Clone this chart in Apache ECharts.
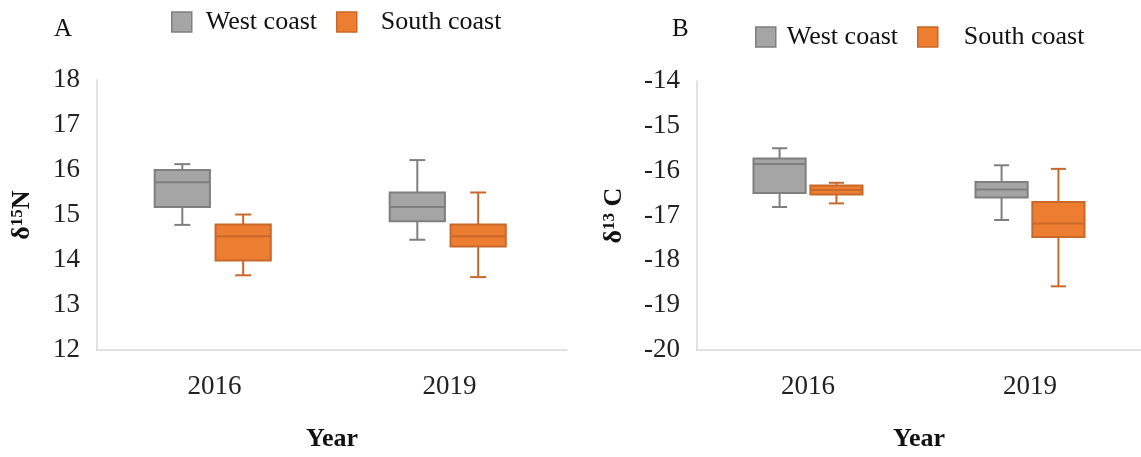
<!DOCTYPE html>
<html><head><meta charset="utf-8">
<script src="https://cdn.jsdelivr.net/npm/echarts@6/dist/echarts.min.js"></script>
<style>html,body{margin:0;padding:0;background:#fff}#c{width:1141px;height:457px}</style>
</head><body><div id="c"></div>
<script>
const years = ['2016', '2019'];
const seriesNames = ['West coast', 'South coast'];
// each entry: [min, Q1, median, Q3, max]
const nWest  = [[14.78, 15.18, 15.73, 16.00, 16.13], [14.45, 14.86, 15.18, 15.50, 16.22]];
const nSouth = [[13.66, 13.99, 14.53, 14.79, 15.01], [13.62, 14.30, 14.53, 14.79, 15.50]];
const cWest  = [[-16.81, -16.50, -15.85, -15.73, -15.50], [-17.10, -16.60, -16.42, -16.25, -15.88]];
const cSouth = [[-16.73, -16.53, -16.43, -16.33, -16.27], [-18.58, -17.48, -17.18, -16.70, -15.96]];
const nAxisRange = [12, 18];
const cAxisRange = [-20, -14];

const FONT = 'Liberation Serif';
const GRAY = '#a5a5a5', GRAY_S = '#7f7f7f';
const ORANGE = '#ed7d31', ORANGE_S = '#c8682a';

function makeRender(fill, stroke, offFrac) {
  return function (params, api) {
    const i = api.value(0);
    const band = api.size([1, 0])[0];
    const p = k => api.coord([i, api.value(k)]);
    const cx = p(3)[0] + offFrac * band;
    const yMin = p(1)[1], yQ1 = p(2)[1], yMed = p(3)[1], yQ3 = p(4)[1], yMax = p(5)[1];
    const bw = band * 0.235, cw = band * 0.068;
    const ls = { stroke: stroke, lineWidth: 2 };
    return { type: 'group', children: [
      { type: 'line', shape: { x1: cx, y1: yMax, x2: cx, y2: yQ3 }, style: ls },
      { type: 'line', shape: { x1: cx, y1: yQ1, x2: cx, y2: yMin }, style: ls },
      { type: 'line', shape: { x1: cx - cw / 2, y1: yMax, x2: cx + cw / 2, y2: yMax }, style: ls },
      { type: 'line', shape: { x1: cx - cw / 2, y1: yMin, x2: cx + cw / 2, y2: yMin }, style: ls },
      { type: 'rect', shape: { x: cx - bw / 2, y: yQ3, width: bw, height: yQ1 - yQ3 }, style: { fill: fill, stroke: stroke, lineWidth: 2 } },
      { type: 'line', shape: { x1: cx - bw / 2, y1: yMed, x2: cx + bw / 2, y2: yMed }, style: ls }
    ] };
  };
}

const toData = arr => arr.map((d, i) => [i].concat(d));

function xAxisCfg(gi) {
  return {
    type: 'category', gridIndex: gi, data: years,
    axisLine: { onZero: false, lineStyle: { color: '#d9d9d9', width: 1.5 } },
    axisTick: { show: false },
    axisLabel: { fontFamily: FONT, fontSize: 27, color: '#222', margin: 23 },
    name: 'Year', nameLocation: 'middle', nameGap: 76,
    nameTextStyle: { fontFamily: FONT, fontSize: 26, fontWeight: 'bold', color: '#111' }
  };
}
function yAxisCfg(gi, range, nameStr, gap) {
  return {
    type: 'value', gridIndex: gi, min: range[0], max: range[1], interval: 1,
    splitLine: { show: false },
    axisLine: { show: true, lineStyle: { color: '#d9d9d9', width: 1.5 } },
    axisTick: { show: false },
    axisLabel: { fontFamily: FONT, fontSize: 27, color: '#222', margin: 17 },
    name: nameStr, nameLocation: 'middle', nameGap: gap,
    nameTextStyle: {
      fontFamily: FONT, fontSize: 26, fontWeight: 'bold', color: '#111',
      rich: { sup: { fontFamily: FONT, fontSize: 17, fontWeight: 'bold', color: '#111', verticalAlign: 'top' } }
    }
  };
}
function legendCfg(left, top, p1, p2) {
  return {
    left: left, top: top, icon: 'rect', itemWidth: 20, itemHeight: 20, itemGap: 19,
    textStyle: { fontFamily: FONT, fontSize: 26, color: '#111', padding: [0, 0, 0, p1] },
    data: [
      { name: seriesNames[0], itemStyle: { color: GRAY, borderColor: GRAY_S, borderWidth: 1.5 } },
      { name: seriesNames[1], itemStyle: { color: ORANGE, borderColor: ORANGE_S, borderWidth: 1.5 },
        textStyle: { padding: [0, 0, 0, p2] } }
    ]
  };
}

const chart = echarts.init(document.getElementById('c'), null, { renderer: 'canvas' });
chart.setOption({
  animation: false,
  title: [
    { text: 'A', left: 49, top: 12, textStyle: { fontFamily: FONT, fontSize: 25, fontWeight: 'normal', color: '#111' } },
    { text: 'B', left: 667, top: 12, textStyle: { fontFamily: FONT, fontSize: 25, fontWeight: 'normal', color: '#111' } }
  ],
  legend: [legendCfg(166, 4, 9, 19), legendCfg(750, 19, 6, 21)],
  grid: [
    { left: 97, width: 470, top: 80, height: 278 },
    { left: 697, width: 444, top: 81, height: 276 }
  ],
  xAxis: [xAxisCfg(0), xAxisCfg(1)],
  yAxis: [
    yAxisCfg(0, nAxisRange, 'δ{sup|15}N', 62),
    yAxisCfg(1, cAxisRange, 'δ{sup|13} C', 70)
  ],
  series: [
    { type: 'custom', name: seriesNames[0], xAxisIndex: 0, yAxisIndex: 0, data: toData(nWest),
      itemStyle: { color: GRAY }, renderItem: makeRender(GRAY, GRAY_S, -0.137) },
    { type: 'custom', name: seriesNames[1], xAxisIndex: 0, yAxisIndex: 0, data: toData(nSouth),
      itemStyle: { color: ORANGE }, renderItem: makeRender(ORANGE, ORANGE_S, 0.122) },
    { type: 'custom', name: seriesNames[0], xAxisIndex: 1, yAxisIndex: 1, data: toData(cWest),
      itemStyle: { color: GRAY }, renderItem: makeRender(GRAY, GRAY_S, -0.128) },
    { type: 'custom', name: seriesNames[1], xAxisIndex: 1, yAxisIndex: 1, data: toData(cSouth),
      itemStyle: { color: ORANGE }, renderItem: makeRender(ORANGE, ORANGE_S, 0.128) }
  ]
});
</script>
</body></html>
